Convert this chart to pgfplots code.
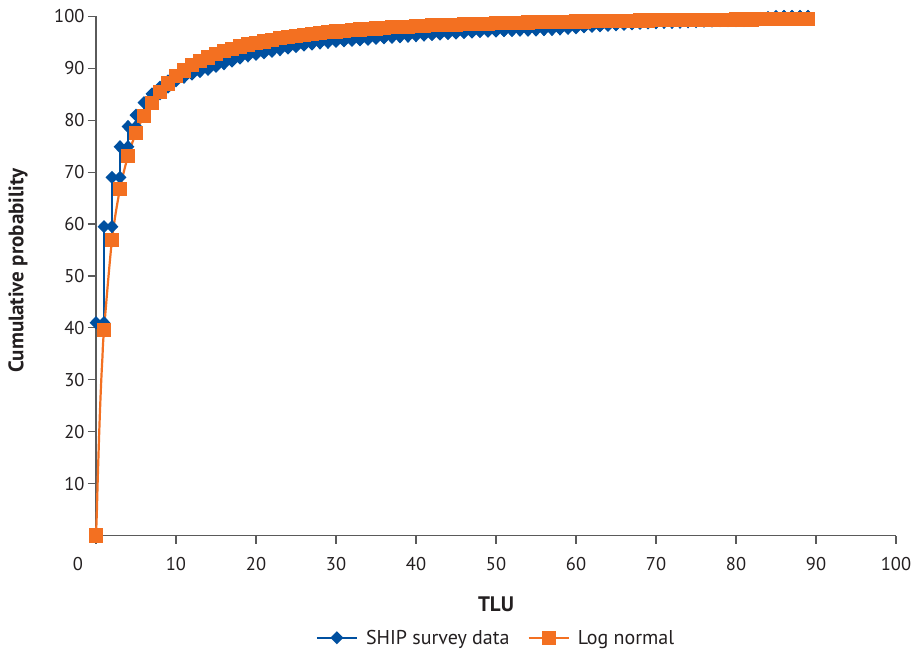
\documentclass[border=0pt]{standalone}
\usepackage{pgfplots}
\pgfplotsset{compat=1.18}
\usepackage{fontspec}
\setmainfont{PT Sans}
\definecolor{shipblue}{HTML}{0050A0}
\definecolor{lnorange}{HTML}{F37021}
\definecolor{axgray}{HTML}{5A5A5A}
\definecolor{txt}{HTML}{231F20}
\begin{document}
\begin{tikzpicture}
\begin{axis}[
  name=ax,
  scale only axis,
  width=800bp, height=519bp,
  xmin=0, xmax=100, ymin=0, ymax=100,
  xtick={0,10,...,100},
  xticklabels={\makebox[0pt][r]{0\hspace{13bp}},10,20,30,40,50,60,70,80,90,100},
  ytick={10,20,...,100},
  axis lines*=left,
  axis line style={axgray, line width=1.2bp},
  tick style={axgray, line width=1.2bp},
  tick align=outside,
  major tick length=8bp,
  clip=false,
  tick label style={font=\fontsize{18.5bp}{22bp}\selectfont, text=txt},
  xticklabel style={yshift=-10bp},
  /pgf/number format/assume math mode=true,
  xlabel={TLU},
  ylabel={Cumulative probability},
  label style={font=\bfseries\fontsize{21bp}{24bp}\selectfont, text=txt},
  xlabel style={at={(axis description cs:0.5,-0.133)}, anchor=center},
  ylabel style={at={(axis description cs:-0.0975,0.51)}, anchor=center},
  legend style={draw=none, at={(0.5,-0.197)}, anchor=center, legend columns=2,
    font=\fontsize{20bp}{24bp}\selectfont, text=txt},
  legend image code/.code={\draw (0bp,0bp) -- (40bp,0bp); \draw plot coordinates {(20bp,0bp)};},
]
\addplot[shipblue, line width=2.2bp, mark=diamond*, mark size=5bp, mark options={xscale=1.3, solid, fill=shipblue}] coordinates {
(0,41.0) (1,41.0) (1,59.5) (2,59.5) (2,69.0) (3,69.0) (3,74.9) (4,74.9) (4,78.8) (5,78.8) (5,81.0)
(6,81.0) (6,83.4) (7,83.4) (7,85.1) (8,85.1) (8,86.4) (9,86.4) (9,87.6) (10,87.6) (10,88.3)
(11,88.3) (11,88.9) (12,88.9) (12,89.4) (13,89.4) (13,89.8) (14,89.8) (14,90.4) (15,90.4) (15,90.9)
(16,90.9) (16,91.4) (17,91.4) (17,92.0) (18,92.0) (18,92.4) (19,92.4) (19,92.7) (20,92.7) (20,93.0)
(21,93.0) (21,93.3) (22,93.3) (22,93.6) (23,93.6) (23,93.9) (24,93.9) (24,94.2) (25,94.2) (25,94.5)
(26,94.5) (26,94.7) (27,94.7) (27,94.9) (28,94.9) (28,95.0) (29,95.0) (29,95.2) (30,95.2) (30,95.3)
(31,95.3) (31,95.4) (32,95.4) (32,95.5) (33,95.5) (33,95.6) (34,95.6) (34,95.8) (35,95.8) (35,95.9)
(36,95.9) (36,96.0) (37,96.0) (37,96.1) (38,96.1) (38,96.2) (39,96.2) (39,96.3) (40,96.3) (40,96.4)
(41,96.4) (41,96.5) (42,96.5) (42,96.6) (43,96.6) (43,96.7) (44,96.7) (44,96.8) (45,96.8) (45,96.9)
(46,96.9) (46,97.0) (47,97.0) (47,97.1) (48,97.1) (48,97.2) (49,97.2) (49,97.2) (50,97.2) (50,97.3)
(51,97.3) (51,97.3) (52,97.3) (52,97.4) (53,97.4) (53,97.4) (54,97.4) (54,97.4) (55,97.4) (55,97.5)
(56,97.5) (56,97.5) (57,97.5) (57,97.6) (58,97.6) (58,97.7) (59,97.7) (59,97.8) (60,97.8) (60,98.0)
(61,98.0) (61,98.1) (62,98.1) (62,98.2) (63,98.2) (63,98.3) (64,98.3) (64,98.4) (65,98.4) (65,98.5)
(66,98.5) (66,98.6) (67,98.6) (67,98.7) (68,98.7) (68,98.8) (69,98.8) (69,98.8) (70,98.8) (70,98.9)
(71,98.9) (71,98.9) (72,98.9) (72,98.9) (73,98.9) (73,99.0) (74,99.0) (74,99.0) (75,99.0) (75,99.1)
(76,99.1) (76,99.1) (77,99.1) (77,99.2) (78,99.2) (78,99.2) (79,99.2) (79,99.2) (80,99.2) (80,99.2)
(81,99.2) (81,99.3) (82,99.3) (82,99.4) (83,99.4) (83,99.6) (84,99.6) (84,99.8) (85,99.8) (85,100)
(86,100) (86,100) (87,100) (87,100) (88,100) (88,100) (89,100) (89,100)
};
\addlegendentry{\rule{6bp}{0pt}SHIP survey data\rule{16bp}{0pt}}
\addplot[lnorange, line width=2.2bp, smooth, mark=square*, mark size=6bp, mark options={solid, fill=lnorange},
  mark indices={1,8,9,...,97}] coordinates {
(0,0) (0.1,4.2) (0.2,9.9) (0.37,18.3) (0.5,24.1) (0.66,30.0) (0.8,34.2)
(1,39.6) (2,57.0) (3,66.8) (4,73.1) (5,77.6) (6,80.9) (7,83.4) (8,85.5) (9,87.1) (10,88.5)
(11,89.6) (12,90.6) (13,91.4) (14,92.1) (15,92.7) (16,93.3) (17,93.8) (18,94.2) (19,94.6) (20,94.9)
(21,95.2) (22,95.5) (23,95.8) (24,96.0) (25,96.2) (26,96.4) (27,96.6) (28,96.8) (29,97.0) (30,97.1)
(31,97.2) (32,97.4) (33,97.5) (34,97.6) (35,97.7) (36,97.8) (37,97.9) (38,98.0) (39,98.0) (40,98.1)
(41,98.2) (42,98.3) (43,98.3) (44,98.4) (45,98.4) (46,98.5) (47,98.5) (48,98.6) (49,98.6) (50,98.7)
(51,98.72) (52,98.76) (53,98.80) (54,98.84) (55,98.87) (56,98.90) (57,98.94) (58,98.97) (59,99.00) (60,99.02)
(61,99.05) (62,99.08) (63,99.10) (64,99.13) (65,99.15) (66,99.17) (67,99.19) (68,99.21) (69,99.23) (70,99.25)
(71,99.27) (72,99.29) (73,99.30) (74,99.32) (75,99.34) (76,99.35) (77,99.37) (78,99.38) (79,99.40) (80,99.41)
(81,99.42) (82,99.43) (83,99.45) (84,99.46) (85,99.47) (86,99.48) (87,99.49) (88,99.50) (89,99.51)
};
\addlegendentry{\rule{6bp}{0pt}Log normal}
\end{axis}
\pgfresetboundingbox
\path ([xshift=-96bp,yshift=-117bp]ax.south west) rectangle ([xshift=22bp,yshift=16.5bp]ax.north east);
\end{tikzpicture}
\end{document}
